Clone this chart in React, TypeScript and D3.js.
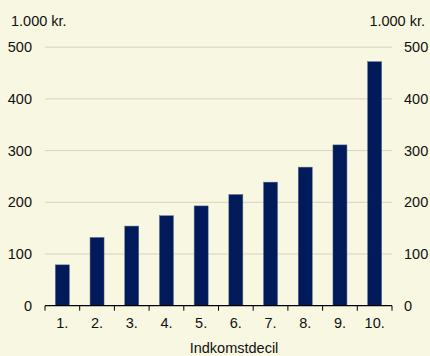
import React from "react";
import * as d3 from "d3";

const categories = ["1.", "2.", "3.", "4.", "5.", "6.", "7.", "8.", "9.", "10."];
const values = [79, 132, 154, 174, 193, 215, 239, 268, 311, 472];
const yTicks = [0, 100, 200, 300, 400, 500];
const unitLabel = "1.000 kr.";
const xTitle = "Indkomstdecil";

const W = 430;
const H = 356;
const left = 45;
const right = 392;
const top = 47.2;
const bottom = 305.7;

export default function App() {
  const xb = d3.scaleBand<string>().domain(categories).range([left, right]);
  const y = d3.scaleLinear().domain([0, 500]).range([bottom, top]);
  const font = "'Liberation Sans', Arial, sans-serif";
  const fs = 14.5;
  const boundaries = categories.map((c) => xb(c) as number).concat([right]);
  return (
    <svg width={W} height={H} style={{ position: "absolute", left: 0, top: 0, display: "block" }}>
      <rect x={0} y={0} width={W} height={H} fill="#f8f7e1" />
      {yTicks.filter((t) => t > 0).map((t) => (
        <line key={t} x1={left} x2={right} y1={y(t)} y2={y(t)} stroke="#d6d3c3" strokeWidth={1} />
      ))}
      {categories.map((c, i) => (
        <rect
          key={c}
          x={(xb(c) as number) + xb.bandwidth() / 2 - 7}
          width={14}
          y={y(values[i])}
          height={bottom - y(values[i])}
          fill="#001a5a"
          stroke="#5a6a90"
          strokeWidth={0.5}
        />
      ))}
      <line x1={left} x2={right} y1={bottom} y2={bottom} stroke="#000" strokeWidth={1.2} />
      {boundaries.map((b, i) => (
        <line key={i} x1={b} x2={b} y1={bottom} y2={bottom + 5} stroke="#000" strokeWidth={1} />
      ))}
      {yTicks.map((t) => (
        <text key={"l" + t} x={32} y={y(t) + 5} textAnchor="end" fontFamily={font} fontSize={fs} fill="#111">
          {t}
        </text>
      ))}
      {yTicks.map((t) => (
        <text key={"r" + t} x={404} y={y(t) + 5} textAnchor="start" fontFamily={font} fontSize={fs} fill="#111">
          {t}
        </text>
      ))}
      {categories.map((c) => (
        <text key={"x" + c} x={(xb(c) as number) + xb.bandwidth() / 2} y={328} textAnchor="middle" fontFamily={font} fontSize={fs} fill="#111">
          {c}
        </text>
      ))}
      <text x={11} y={26} fontFamily={font} fontSize={fs} fill="#111">{unitLabel}</text>
      <text x={425} y={26} textAnchor="end" fontFamily={font} fontSize={fs} fill="#111">{unitLabel}</text>
      <text x={234} y={353} textAnchor="middle" fontFamily={font} fontSize={fs} fill="#111">{xTitle}</text>
    </svg>
  );
}
